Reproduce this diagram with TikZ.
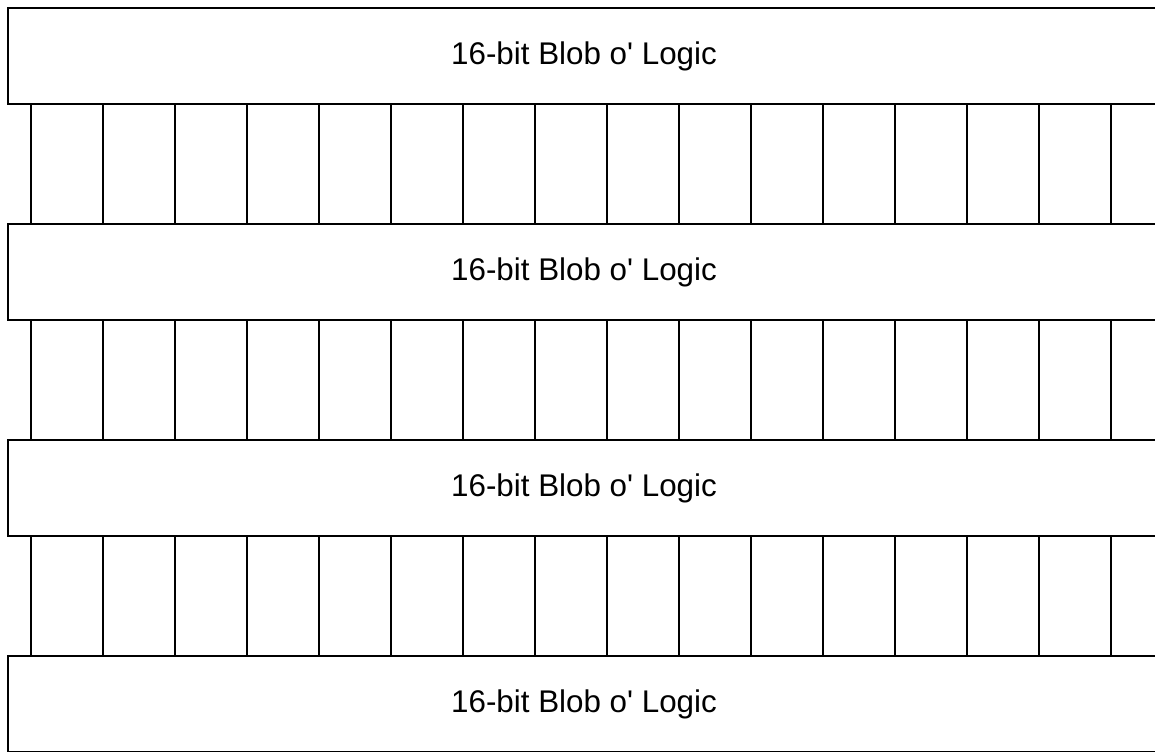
\documentclass[tikz,border=0pt]{standalone}
\usepackage{fontspec}
\newfontfamily\blobfont{Liberation Sans}
\usetikzlibrary{positioning}
\definecolor{ink}{HTML}{000000}
\definecolor{paper}{HTML}{FFFFFF}
\tikzset{
  blob/.style={
    draw=ink,
    fill=paper,
    line width=1.3pt,
    minimum width=28.8cm,
    minimum height=2.38cm,
    inner sep=0pt,
    font=\blobfont\fontsize{22.3}{26}\selectfont,
    text=ink
  },
  wire/.style={
    draw=ink,
    line width=1.3pt
  }
}

\begin{document}
\begin{tikzpicture}
  \useasboundingbox[fill=paper] (0,0) rectangle (28.875,-18.8);

  \node[blob] (blob-1) at (14.6,-1.4) {16-bit Blob o' Logic};
  \node[blob] (blob-2) at (14.6,-6.8) {16-bit Blob o' Logic};
  \node[blob] (blob-3) at (14.6,-12.2) {16-bit Blob o' Logic};
  \node[blob] (blob-4) at (14.6,-17.6) {16-bit Blob o' Logic};

  % 16 wires in each gap
  \foreach \k in {0,...,15}
    \draw[wire] ([xshift=0.6cm+\k*1.8cm]blob-1.south west) --
      ([xshift=0.6cm+\k*1.8cm]blob-2.north west);
  \foreach \k in {0,...,15}
    \draw[wire] ([xshift=0.6cm+\k*1.8cm]blob-2.south west) --
      ([xshift=0.6cm+\k*1.8cm]blob-3.north west);
  \foreach \k in {0,...,15}
    \draw[wire] ([xshift=0.6cm+\k*1.8cm]blob-3.south west) --
      ([xshift=0.6cm+\k*1.8cm]blob-4.north west);
\end{tikzpicture}
\end{document}
